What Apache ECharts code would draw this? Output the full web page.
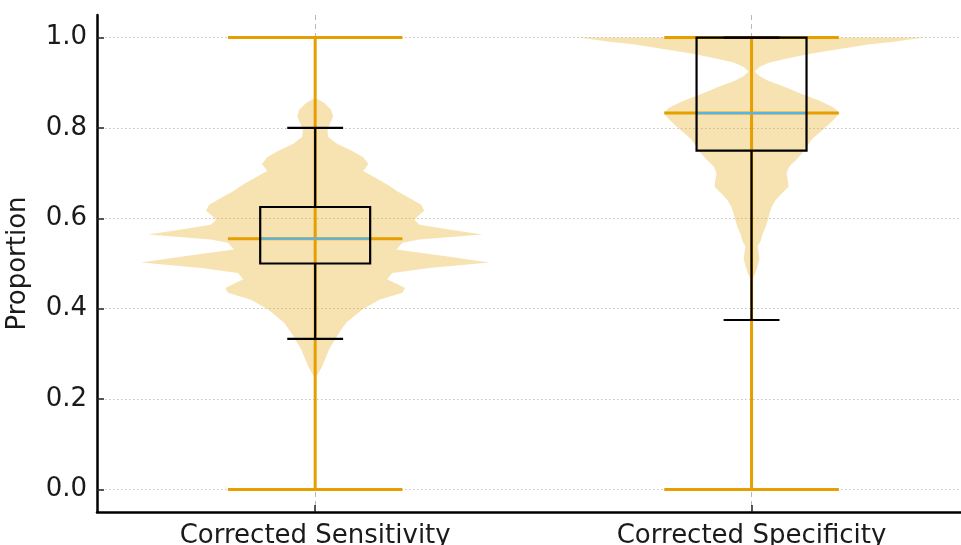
<!DOCTYPE html>
<html><head><meta charset="utf-8">
<script src="https://cdn.jsdelivr.net/npm/echarts@6/dist/echarts.min.js"></script>
<style>html,body{margin:0;padding:0;background:#fff}#c{width:961px;height:545px}</style>
</head><body><div id="c"></div>
<script>
// ---- data ----
const categories = ['Corrected Sensitivity', 'Corrected Specificity'];
const positions = [1, 2];
const yTicks = [0, 0.2, 0.4, 0.6, 0.8, 1.0];

// violin density profiles (level, half-width in category units)
const sensLevels = [0.245, 0.272, 0.31, 0.347, 0.369, 0.398, 0.42, 0.435, 0.446, 0.465, 0.479, 0.49, 0.502, 0.516, 0.531, 0.546, 0.553, 0.564, 0.575, 0.586, 0.597, 0.605, 0.617, 0.63, 0.645, 0.66, 0.675, 0.69, 0.705, 0.72, 0.735, 0.75, 0.765, 0.78, 0.795, 0.81, 0.825, 0.84, 0.855, 0.867];
const sensHalfWidth = [0, 0.016, 0.032, 0.055, 0.071, 0.108, 0.147, 0.200, 0.206, 0.165, 0.177, 0.261, 0.399, 0.300, 0.186, 0.200, 0.239, 0.383, 0.307, 0.239, 0.227, 0.236, 0.250, 0.243, 0.216, 0.188, 0.165, 0.138, 0.110, 0.122, 0.110, 0.083, 0.050, 0.030, 0.028, 0.034, 0.041, 0.037, 0.021, 0];

const specLevels = [0.458, 0.465, 0.48, 0.495, 0.51, 0.525, 0.538, 0.55, 0.565, 0.58, 0.595, 0.61, 0.625, 0.64, 0.655, 0.67, 0.685, 0.7, 0.715, 0.73, 0.745, 0.76, 0.775, 0.79, 0.805, 0.82, 0.833, 0.845, 0.86, 0.875, 0.89, 0.905, 0.915, 0.925, 0.935, 0.945, 0.955, 0.965, 0.975, 0.985, 0.99, 1.0];
const specHalfWidth = [0, 0.002, 0.009, 0.014, 0.018, 0.016, 0.014, 0.021, 0.025, 0.032, 0.037, 0.041, 0.046, 0.055, 0.069, 0.085, 0.083, 0.080, 0.087, 0.103, 0.117, 0.128, 0.138, 0.156, 0.174, 0.190, 0.202, 0.188, 0.156, 0.115, 0.078, 0.037, 0.018, 0.007, 0.018, 0.041, 0.087, 0.138, 0.202, 0.271, 0.321, 0.397];

// violin extremes and medians
const violinMin = [0, 0];
const violinMax = [1, 1];
const medians = [0.555, 0.833];

// box-plot statistics
const boxQ1 = [0.5, 0.75];
const boxQ3 = [0.625, 1.0];
const whiskerLow = [0.333, 0.375];
const whiskerHigh = [0.8, 1.0];

// ---- styles ----
const violinFill = 'rgba(230,159,0,0.3)';
const orange = '#E69F00';
const blue = '#56B4E9';
const statHalf = 0.2;   // half-length of violin stat lines
const boxHalf = 0.126;  // half-width of box
const capHalf = 0.064;  // half-width of whisker caps

const profiles = [
  {levels: sensLevels, hw: sensHalfWidth},
  {levels: specLevels, hw: specHalfWidth}
];

function seg(api, x1, y1, x2, y2, color, w) {
  const a = api.coord([x1, y1]), b = api.coord([x2, y2]);
  return {type: 'line', shape: {x1: a[0], y1: a[1], x2: b[0], y2: b[1]}, style: {stroke: color, lineWidth: w}};
}

function renderViolin(params, api) {
  const i = api.value(0);
  const p = profiles[i], pos = positions[i];
  const right = p.levels.map((v, k) => api.coord([pos + p.hw[k], v]));
  const left = p.levels.map((v, k) => api.coord([pos - p.hw[k], v])).reverse();
  return {type: 'polygon', shape: {points: right.concat(left)}, style: {fill: violinFill}};
}

function renderStats(params, api) {
  const i = api.value(0), pos = positions[i];
  return {type: 'group', children: [
    seg(api, pos, violinMin[i], pos, violinMax[i], orange, 3),
    seg(api, pos - statHalf, violinMin[i], pos + statHalf, violinMin[i], orange, 3),
    seg(api, pos - statHalf, violinMax[i], pos + statHalf, violinMax[i], orange, 3),
    seg(api, pos - statHalf, medians[i], pos + statHalf, medians[i], orange, 3)
  ]};
}

function renderBox(params, api) {
  const i = api.value(0), pos = positions[i];
  const tl = api.coord([pos - boxHalf, boxQ3[i]]);
  const br = api.coord([pos + boxHalf, boxQ1[i]]);
  return {type: 'group', children: [
    seg(api, pos, whiskerLow[i], pos, boxQ1[i], '#000', 2.2),
    seg(api, pos, boxQ3[i], pos, whiskerHigh[i], '#000', 2.2),
    seg(api, pos - capHalf, whiskerLow[i], pos + capHalf, whiskerLow[i], '#000', 2.2),
    seg(api, pos - capHalf, whiskerHigh[i], pos + capHalf, whiskerHigh[i], '#000', 2.2),
    seg(api, pos - boxHalf, medians[i], pos + boxHalf, medians[i], blue, 2.2),
    {type: 'rect', shape: {x: tl[0], y: tl[1], width: br[0] - tl[0], height: br[1] - tl[1]},
     style: {fill: null, stroke: '#000', lineWidth: 2.2}}
  ]};
}

const chart = echarts.init(document.getElementById('c'), null, {renderer: 'canvas'});
const idxData = positions.map((p, i) => [i]);
chart.setOption({
  animation: false,
  backgroundColor: '#fff',
  grid: {left: 97, right: 0, top: 15, bottom: 33, containLabel: false, outerBoundsMode: 'none'},
  xAxis: {
    type: 'value', min: 0.5, max: 2.48,
    axisLine: {show: true, onZero: false, lineStyle: {color: '#000', width: 2.5}},
    axisTick: {show: true, inside: true, length: 7, customValues: positions, lineStyle: {color: '#222', width: 1.5}},
    axisLabel: {customValues: positions, margin: 11, fontSize: 26, color: '#1a1a1a', fontFamily: 'DejaVu Sans',
      formatter: v => categories[positions.indexOf(v)] || ''},
    splitLine: {show: true, lineStyle: {color: '#b8b8b8', type: [5, 4], width: 1}}
  },
  yAxis: {
    type: 'value', min: -0.05, max: 1.05,
    name: 'Proportion', nameLocation: 'middle', nameGap: 66,
    nameTextStyle: {fontSize: 26, color: '#1a1a1a', fontFamily: 'DejaVu Sans'},
    axisLine: {show: true, onZero: false, lineStyle: {color: '#000', width: 2.5}},
    axisTick: {show: true, inside: true, length: 7, customValues: yTicks, lineStyle: {color: '#222', width: 1.5}},
    axisLabel: {customValues: yTicks, margin: 10, fontSize: 26, color: '#1a1a1a', fontFamily: 'DejaVu Sans',
      formatter: v => v.toFixed(1)},
    splitLine: {show: true, lineStyle: {color: '#c4c4c4', type: [1.5, 2.5], width: 1}}
  },
  series: [
    {type: 'custom', renderItem: renderViolin, data: idxData, z: 2, silent: true},
    {type: 'custom', renderItem: renderStats, data: idxData, z: 3, silent: true},
    {type: 'custom', renderItem: renderBox, data: idxData, z: 4, silent: true}
  ]
});
</script></body></html>
